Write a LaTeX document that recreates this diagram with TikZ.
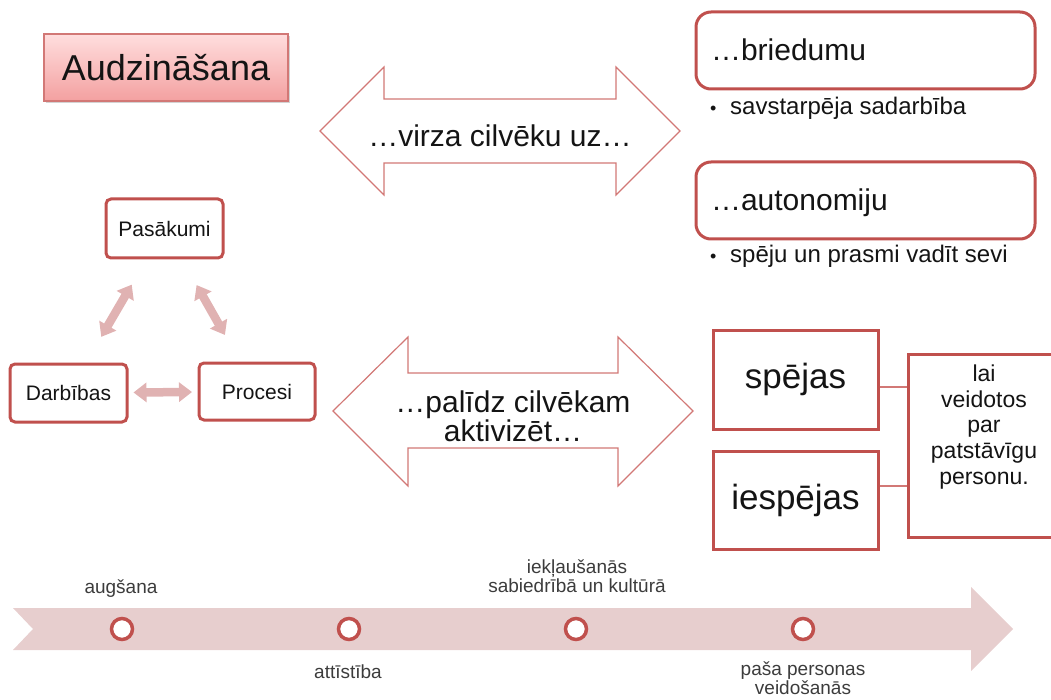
\documentclass[tikz,border=0pt]{standalone}
\usepackage{fontspec}
\setmainfont{Liberation Sans}
\usetikzlibrary{arrows.meta,calc,shadows}
\definecolor{dred}{RGB}{192,80,77}
\definecolor{lred}{RGB}{210,120,118}
\definecolor{pinkarr}{RGB}{224,178,178}
\definecolor{tline}{RGB}{231,206,206}
\definecolor{tgray}{RGB}{60,60,60}
\definecolor{txt}{RGB}{20,20,20}
\definecolor{titletop}{RGB}{255,222,222}
\definecolor{titlebot}{RGB}{243,160,160}
\tikzset{
  titlebox/.style={draw=lred, line width=1.2pt, top color=titletop, bottom color=titlebot,
    drop shadow={shadow xshift=2pt, shadow yshift=-2pt, opacity=0.35},
    text=txt, font=\fontsize{36}{42}\selectfont},
  dblarrow/.style={draw=lred, line width=1.2pt, fill=white, line join=miter},
  arrtext/.style={text=txt, font=\fontsize{30}{29}\selectfont, align=center, inner sep=0pt},
  rbox/.style={draw=dred, line width=3pt, rounded corners=15pt, fill=white,
    minimum width=339pt, minimum height=77pt, text width=309pt, inner xsep=15pt, align=left,
    text height=21pt, text depth=0pt, text=txt, font=\fontsize{30}{34}\selectfont},
  bullettext/.style={text=txt, font=\fontsize{24}{28}\selectfont, inner sep=0pt},
  sbox/.style={draw=dred, line width=3pt, rounded corners=5pt, fill=white,
    text=txt, font=\fontsize{21}{25}\selectfont},
  blockarr/.style={draw=pinkarr, line width=8.5pt, shorten <=65pt, shorten >=65pt,
    {Triangle[width=19pt,length=13pt]}-{Triangle[width=19pt,length=13pt]}},
  abox/.style={draw=dred, line width=3pt, fill=white, minimum width=165pt,
    text=txt, font=\fontsize{35}{40}\selectfont},
  goaltext/.style={text=txt, font=\fontsize{23}{25.7}\selectfont, align=center, inner sep=0pt},
  conn/.style={draw=lred, line width=1.2pt},
  tcirc/.style={circle, draw=dred, line width=3.5pt, fill=white, minimum size=21pt, inner sep=0pt},
  tlabel/.style={text=tgray, font=\fontsize{19}{19}\selectfont, align=center, inner sep=0pt}
}
\begin{document}
\begin{tikzpicture}[x=1pt,y=-1pt]
\useasboundingbox (0,0) rectangle (1051,700);
\clip (0,0) rectangle (1051,700);

% title
\node[titlebox, minimum width=244pt, minimum height=67pt] (aud) at (166,67.5) {Audzināšana};

% top double arrow
\draw[dblarrow] (320,131) -- (384,67) -- (384,99) -- (616,99) -- (616,67) -- (680,131)
  -- (616,195) -- (616,163) -- (384,163) -- (384,195) -- cycle;
\node[arrtext, anchor=base] (virza) at (500,147) {…virza cilvēku uz…};

% right top boxes
\node[rbox] (bried) at (865.5,50.5) {…briedumu};
\node[bullettext, anchor=base west] (b1) at (710,115) {\makebox[20pt][l]{\fontsize{18}{20}\selectfont •}savstarpēja sadarbība};
\node[rbox] (auton) at (865.5,200.5) {…autonomiju};
\node[bullettext, anchor=base west] (b2) at (710,263) {\makebox[20pt][l]{\fontsize{18}{20}\selectfont •}spēju un prasmi vadīt sevi};

% triangle
\node[sbox, minimum width=117pt, minimum height=59pt] (pas) at (164.5,228.5) {Pasākumi};
\node[sbox, minimum width=117pt, minimum height=58pt] (dar) at (68.5,393) {Darbības};
\node[sbox, minimum width=116pt, minimum height=57pt] (pro) at (257,391.5) {Procesi};
\draw[blockarr] (pas.center) -- (dar.center);
\draw[blockarr] (pas.center) -- (pro.center);
\draw[blockarr] (dar.center) -- (pro.center);

% middle double arrow
\draw[dblarrow] (333,411) -- (408,337) -- (408,373) -- (618,373) -- (618,337) -- (693,411)
  -- (618,486) -- (618,448) -- (408,448) -- (408,486) -- cycle;
\node[arrtext] (paldz) at (513,416) {…palīdz cilvēkam\\aktivizēt…};

% abilities
\node[abox, minimum height=99pt] (spejas) at (795.5,379.5) {spējas};
\node[abox, minimum height=98pt] (iesp) at (795.5,500) {iespējas};
\node[draw=dred, line width=3pt, fill=white, minimum width=152pt, minimum height=183pt] (goal) at (984,445.5) {};
\node[goaltext, anchor=north] (goaltxt) at (984,364.5) {lai\\veidotos\\par\\patstāvīgu\\personu.};
\draw[conn] ([yshift=-7.5pt]spejas.east) -- ([yshift=-7.5pt]spejas.east -| goal.west);
\draw[conn] ([yshift=14pt]iesp.east) -- ([yshift=14pt]iesp.east -| goal.west);

% timeline
\path[fill=tline] (13,608) -- (971,608) -- (971,587) -- (1013,629) -- (971,671) -- (971,650)
  -- (13,650) -- (33,629) -- cycle;
\node[tcirc] (c1) at (122,629) {};
\node[tcirc] (c2) at (349,629) {};
\node[tcirc] (c3) at (576,629) {};
\node[tcirc] (c4) at (803,629) {};
\node[tlabel, anchor=base] (l1) at (121,593) {augšana};
\node[tlabel, anchor=base] (l2) at (348,678) {attīstība};
\node[tlabel, anchor=base] (l3) at (577,573) {iekļaušanās};
\node[tlabel, anchor=base] (l3b) at (577,592) {sabiedrībā un kultūrā};
\node[tlabel, anchor=base] (l4) at (803,675) {paša personas};
\node[tlabel, anchor=base] (l4b) at (803,694) {veidošanās};
\end{tikzpicture}
\end{document}
